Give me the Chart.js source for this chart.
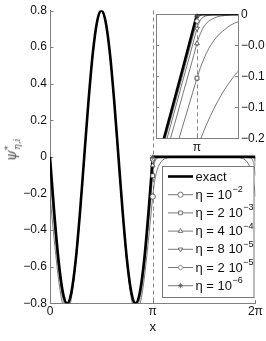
<!DOCTYPE html>
<html>
<head>
<meta charset="utf-8">
<script src="https://cdn.jsdelivr.net/npm/chart.js@4.4.0/dist/chart.umd.min.js"></script>
<style>
  body { margin: 0; background: #fff; }
  #wrap { position: relative; width: 266px; height: 341px; overflow: hidden; }
  #main { position: absolute; left: 0; top: 0; }
  #inset { position: absolute; left: 140px; top: 0; }
  #ytitle {
    position: absolute; left: 11px; top: 150px;
    transform: translate(-50%, -50%) rotate(-90deg);
    font: italic 14px "DejaVu Serif", serif; color: #555;
    white-space: nowrap; line-height: 1;
  }
  #ytitle .sp { position: relative; top: -5px; font-size: 9px; }
  #ytitle .sb { position: relative; top: 4px; font-size: 9px; margin-left: -4px; }
</style>
</head>
<body>
<div id="wrap">
  <canvas id="main" width="266" height="341"></canvas>
  <canvas id="inset" width="126" height="160"></canvas>
  <div id="ytitle">ψ<span class="sp">*</span><span class="sb">η,i</span></div>
</div>
<script>
// x is in degrees here, 180 = pi, 360 = 2 pi

// ---- ticks ----
const X_TICKS = [0, 180, 360];
const X_TICK_LABELS = ['0', 'π', '2π'];
const Y_TICKS = [-0.8, -0.6, -0.4, -0.2, 0, 0.2, 0.4, 0.6, 0.8];
const Y_TICK_LABELS = ['−0.8', '−0.6', '−0.4', '−0.2', '0', '0.2', '0.4', '0.6', '0.8'];
const INSET_X_TICKS = [180];
const INSET_X_LABELS = ['π'];
const INSET_Y_TICKS = [0, -0.05, -0.1, -0.15, -0.2];
const INSET_Y_LABELS = ['0', '−0.0', '−0.1', '−0.1', '−0.2'];
const PI_LINE = 180;

// ---- legend ----
const LEGEND_TEXT = ['exact', 'η = 10', 'η = 2 10', 'η = 4 10', 'η = 8 10', 'η = 2 10', 'η = 10'];
const LEGEND_EXP = ['', '−2', '−3', '−4', '−5', '−5', '−6'];

// ---- data ----
const MID_X = [15, 22.5, 30, 37.5, 45, 52.5, 60, 67.5, 75, 82.5, 90, 97.5, 105, 112.5, 120, 127.5, 135, 142.5, 150, 157.5, 165];

const EXACT_X = [0, 7.5, ...MID_X, 172.5, 174, 176, 178, 179, 180];
const EXACT_Y = [0, -0.306, -0.566, -0.739, -0.8, -0.739, -0.566, -0.306, 0, 0.306, 0.566, 0.739, 0.8, 0.739, 0.566, 0.306, 0,
  -0.306, -0.566, -0.739, -0.8, -0.739, -0.566, -0.306, -0.247, -0.166, -0.084, -0.042, 0];
const SOLID_X = [180, 360];
const SOLID_Y = [0, 0];

// eta = 1e-2
const ETA1_X = [0, 2, 4, 6, 7.5, ...MID_X, 172.5, 174, 176, 178, 180, 181, 182, 183, 184, 185, 186, 188, 190, 195, 200, 210, 220,
  320, 330, 340, 345, 350, 352, 354, 356, 358, 359, 360];
const ETA1_Y = [-0.217, -0.280, -0.344, -0.408, -0.455,
  -0.669, -0.810, -0.849, -0.772, -0.589, -0.322, -0.011, 0.298, 0.560, 0.734, 0.795, 0.734, 0.560, 0.298, -0.011, -0.322, -0.589, -0.772, -0.849, -0.810, -0.669,
  -0.455, -0.408, -0.344, -0.280, -0.217, -0.188, -0.163, -0.141, -0.122, -0.106, -0.092, -0.069, -0.052, -0.025, -0.012, -0.003, -0.001,
  -0.001, -0.003, -0.012, -0.025, -0.052, -0.069, -0.092, -0.122, -0.163, -0.188, -0.217];

// eta = 2e-3
const ETA2_X = [0, 1, 2, 4, 6, 7.5, ...MID_X, 172.5, 174, 176, 177, 178, 179, 179.5, 180, 180.5, 181, 181.5, 182, 183, 184, 185, 186, 188, 190, 195,
  345, 350, 352, 354, 356, 357, 358, 358.5, 359, 359.5, 360];
const ETA2_Y = [-0.103, -0.140, -0.177, -0.251, -0.324, -0.377,
  -0.615, -0.773, -0.823, -0.755, -0.577, -0.314, -0.005, 0.302, 0.563, 0.737, 0.798, 0.737, 0.563, 0.302, -0.005, -0.314, -0.577, -0.755, -0.823, -0.773, -0.615,
  -0.377, -0.324, -0.251, -0.214, -0.177, -0.140, -0.121, -0.103, -0.086, -0.072, -0.060, -0.050, -0.035, -0.025, -0.017, -0.012, -0.006, -0.003, 0,
  0, -0.003, -0.006, -0.012, -0.025, -0.035, -0.050, -0.060, -0.072, -0.086, -0.103];

// eta = 4e-4
const ETA3_X = [0, 0.5, 1, 2, 4, 7.5, ...MID_X, 172.5, 174, 175, 176, 177, 178, 179, 179.5, 180, 180.25, 180.5, 180.75, 181, 181.5, 182, 183, 184, 186, 190,
  350, 356, 357, 358, 358.5, 359, 359.25, 359.5, 359.75, 360];
const ETA3_Y = [-0.047, -0.067, -0.087, -0.126, -0.205, -0.338,
  -0.588, -0.754, -0.811, -0.746, -0.571, -0.309, -0.002, 0.304, 0.565, 0.738, 0.799, 0.738, 0.565, 0.304, -0.002, -0.309, -0.571, -0.746, -0.811, -0.754, -0.588,
  -0.338, -0.282, -0.244, -0.205, -0.166, -0.126, -0.087, -0.067, -0.047, -0.038, -0.031, -0.025, -0.020, -0.013, -0.009, -0.004, -0.002, 0, 0,
  0, -0.002, -0.004, -0.009, -0.013, -0.020, -0.025, -0.031, -0.038, -0.047];

// eta = 8e-5
const ETA4_X = [0, 0.5, 1, 2, 4, 7.5, ...MID_X, 172.5, 174, 176, 178, 179, 179.5, 180, 180.1, 180.25, 180.5, 180.75, 181, 181.5, 182, 183, 190,
  350, 357, 358, 358.5, 359, 359.25, 359.5, 359.75, 359.9, 360];
const ETA4_Y = [-0.023, -0.043, -0.064, -0.104, -0.185, -0.322,
  -0.577, -0.747, -0.805, -0.743, -0.568, -0.308, -0.001, 0.305, 0.565, 0.738, 0.799, 0.738, 0.565, 0.305, -0.001, -0.308, -0.568, -0.743, -0.805, -0.747, -0.577,
  -0.322, -0.264, -0.185, -0.104, -0.064, -0.043, -0.023, -0.019, -0.015, -0.009, -0.006, -0.004, -0.002, -0.001, 0, 0,
  0, 0, -0.001, -0.002, -0.004, -0.006, -0.009, -0.015, -0.019, -0.023];

// eta = 2e-5
const ETA5_X = [0, 0.5, 1, 2, 4, 7.5, ...MID_X, 172.5, 174, 176, 178, 179, 179.5, 180, 180.1, 180.25, 180.5, 181, 190,
  350, 359, 359.5, 359.75, 359.9, 360];
const ETA5_Y = [-0.011, -0.032, -0.052, -0.094, -0.175, -0.314,
  -0.571, -0.743, -0.802, -0.741, -0.567, -0.307, -0.001, 0.306, 0.566, 0.739, 0.800, 0.739, 0.566, 0.306, -0.001, -0.307, -0.567, -0.741, -0.802, -0.743, -0.571,
  -0.314, -0.255, -0.175, -0.094, -0.052, -0.032, -0.011, -0.008, -0.004, -0.002, 0, 0,
  0, 0, -0.002, -0.004, -0.008, -0.011];

// eta = 1e-6
const ETA6_X = [0, 0.5, 1, 2, 4, 7.5, ...MID_X, 172.5, 174, 176, 178, 179, 179.5, 180, 180.1, 180.25, 190,
  350, 359.75, 359.9, 360];
const ETA6_Y = [-0.003, -0.024, -0.045, -0.086, -0.169, -0.308,
  -0.567, -0.740, -0.801, -0.740, -0.566, -0.306, 0, 0.306, 0.566, 0.739, 0.800, 0.739, 0.566, 0.306, 0, -0.306, -0.566, -0.740, -0.801, -0.740, -0.567,
  -0.308, -0.249, -0.169, -0.086, -0.045, -0.024, -0.003, -0.001, 0, 0,
  0, 0, -0.001, -0.003];

const APPROX = [
  { xs: ETA1_X, ys: ETA1_Y, style: 'circle', rot: 0 },
  { xs: ETA2_X, ys: ETA2_Y, style: 'rect', rot: 0 },
  { xs: ETA3_X, ys: ETA3_Y, style: 'triangle', rot: 0 },
  { xs: ETA4_X, ys: ETA4_Y, style: 'triangle', rot: 180 },
  { xs: ETA5_X, ys: ETA5_Y, style: 'rectRot', rot: 0 },
  { xs: ETA6_X, ys: ETA6_Y, style: 'star', rot: 0 },
];

// ---- style ----
const GRAY = '#555';
const AXIS = '#808080';
const FONT = '"Liberation Sans", Arial, Helvetica, sans-serif';
const TEXT = '#111';
const MARK_R = 2.6;

const pts = (xs, ys) => xs.map((x, i) => ({ x: x, y: ys[i] }));

function buildDatasets() {
  const sets = [
    { data: pts(EXACT_X, EXACT_Y), borderColor: '#000', borderWidth: 2.6, cubicInterpolationMode: 'monotone', pointRadius: 0 },
    { data: pts(SOLID_X, SOLID_Y), borderColor: '#000', borderWidth: 2.6, pointRadius: 0 },
  ];
  APPROX.forEach(a => {
    sets.push({
      data: pts(a.xs, a.ys),
      borderColor: GRAY,
      borderWidth: 0.8,
      cubicInterpolationMode: 'monotone',
      pointStyle: a.style,
      pointRotation: a.rot,
      pointRadius: c => (c.raw && c.raw.x === PI_LINE) ? MARK_R : 0,
      pointBorderColor: GRAY,
      pointBackgroundColor: '#fff',
      pointBorderWidth: 0.8,
    });
  });
  return sets;
}

// markers on top of the thick exact line
function redrawMarkers(chart) {
  const ctx = chart.ctx;
  chart.data.datasets.forEach((ds, i) => {
    if (i < 2) return;
    const meta = chart.getDatasetMeta(i);
    meta.data.forEach((el, j) => {
      if (ds.data[j].x === PI_LINE) el.draw(ctx, chart.chartArea);
    });
  });
}

function dashedPi(chart) {
  const { ctx, chartArea: a, scales: { x } } = chart;
  const px = Math.round(x.getPixelForValue(PI_LINE)) + 0.5;
  ctx.save();
  ctx.strokeStyle = '#888';
  ctx.lineWidth = 1;
  ctx.setLineDash([4, 3]);
  ctx.beginPath();
  ctx.moveTo(px, a.top);
  ctx.lineTo(px, a.bottom);
  ctx.stroke();
  ctx.restore();
}

const LEG = { left: 162.5, top: 166.5, right: 254, bottom: 297.5, row0: 176.5, step: 18.2, x0: 168, x1: 193, tx: 195.5 };

function drawLegend(chart) {
  const ctx = chart.ctx;
  ctx.save();
  ctx.fillStyle = '#fff';
  ctx.fillRect(LEG.left, LEG.top, LEG.right - LEG.left, LEG.bottom - LEG.top);
  ctx.strokeStyle = '#777';
  ctx.lineWidth = 1;
  ctx.strokeRect(LEG.left, LEG.top, LEG.right - LEG.left, LEG.bottom - LEG.top);

  LEGEND_TEXT.forEach((label, i) => {
    const y = LEG.row0 + i * LEG.step;
    const ds = chart.data.datasets[i === 0 ? 0 : i + 1];
    ctx.strokeStyle = ds.borderColor;
    ctx.lineWidth = ds.borderWidth;
    ctx.beginPath();
    ctx.moveTo(LEG.x0, y);
    ctx.lineTo(LEG.x1, y);
    ctx.stroke();
    if (i > 0) {
      ctx.fillStyle = '#fff';
      ctx.strokeStyle = GRAY;
      ctx.lineWidth = 0.8;
      Chart.helpers.drawPoint(ctx, { pointStyle: ds.pointStyle, rotation: ds.pointRotation, radius: MARK_R, borderWidth: 0.8 },
        (LEG.x0 + LEG.x1) / 2, y);
    }
    ctx.fillStyle = TEXT;
    ctx.textBaseline = 'middle';
    ctx.textAlign = 'left';
    ctx.font = '13px ' + FONT;
    ctx.fillText(label, LEG.tx, y + 0.5);
    if (LEGEND_EXP[i]) {
      const w = ctx.measureText(label).width;
      ctx.font = '9px ' + FONT;
      ctx.fillText(LEGEND_EXP[i], LEG.tx + w + 0.5, y - 5);
    }
  });
  ctx.restore();
}

const mainDecor = {
  id: 'mainDecor',
  beforeDatasetsDraw(chart) {
    const { ctx, chartArea: a, scales: { x, y } } = chart;
    dashedPi(chart);
    ctx.save();
    ctx.strokeStyle = AXIS;
    ctx.lineWidth = 1;
    X_TICKS.forEach(v => {
      const p = Math.round(x.getPixelForValue(v)) + 0.5;
      ctx.beginPath(); ctx.moveTo(p, a.bottom); ctx.lineTo(p, a.bottom - 3.5); ctx.stroke();
    });
    Y_TICKS.forEach(v => {
      const p = Math.round(y.getPixelForValue(v)) + 0.5;
      ctx.beginPath(); ctx.moveTo(a.left, p); ctx.lineTo(a.left + 3.5, p); ctx.stroke();
    });
    ctx.restore();
  },
  afterDatasetsDraw(chart) { redrawMarkers(chart); },
  afterDraw(chart) { drawLegend(chart); }
};

const insetDecor = {
  id: 'insetDecor',
  beforeDraw(chart) {
    const { ctx, chartArea: a } = chart;
    ctx.save();
    ctx.fillStyle = '#fff';
    ctx.fillRect(a.left, a.top, a.right - a.left, a.bottom - a.top);
    ctx.restore();
  },
  beforeDatasetsDraw(chart) {
    const { ctx, chartArea: a, scales: { x, y } } = chart;
    ctx.save();
    ctx.strokeStyle = AXIS;
    ctx.lineWidth = 1;
    ctx.strokeRect(Math.round(a.left) + 0.5, Math.round(a.top) + 0.5, Math.round(a.right - a.left), Math.round(a.bottom - a.top));
    INSET_Y_TICKS.forEach(v => {
      const p = Math.round(y.getPixelForValue(v)) + 0.5;
      ctx.beginPath(); ctx.moveTo(a.left, p); ctx.lineTo(a.left + 3, p); ctx.stroke();
      ctx.beginPath(); ctx.moveTo(a.right, p); ctx.lineTo(a.right - 3, p); ctx.stroke();
    });
    INSET_X_TICKS.forEach(v => {
      const p = Math.round(x.getPixelForValue(v)) + 0.5;
      ctx.beginPath(); ctx.moveTo(p, a.bottom); ctx.lineTo(p, a.bottom - 3); ctx.stroke();
      ctx.beginPath(); ctx.moveTo(p, a.top); ctx.lineTo(p, a.top + 3); ctx.stroke();
    });
    ctx.restore();
    dashedPi(chart);
  },
  afterDatasetsDraw(chart) { redrawMarkers(chart); }
};

const tickFont = { family: FONT, size: 12 };

new Chart(document.getElementById('main'), {
  type: 'line',
  data: { datasets: buildDatasets() },
  options: {
    responsive: false,
    animation: false,
    events: [],
    layout: { padding: { left: 0, top: 10.5, right: 10.6, bottom: 0 } },
    plugins: { legend: { display: false }, tooltip: { enabled: false } },
    scales: {
      x: {
        type: 'linear', min: 0, max: 360,
        afterFit: s => { s.height = 37.7; },
        afterBuildTicks: s => { s.ticks = X_TICKS.map(v => ({ value: v })); },
        ticks: { callback: v => X_TICK_LABELS[X_TICKS.indexOf(v)], padding: 1, autoSkip: false, maxRotation: 0, font: tickFont, color: TEXT },
        grid: { display: false, drawTicks: false },
        border: { display: true, color: AXIS, width: 1 },
        title: { display: true, text: 'x', color: TEXT, font: { family: FONT, size: 13 }, padding: { top: 0, bottom: 6 } }
      },
      y: {
        type: 'linear', min: -0.8, max: 0.8,
        afterFit: s => { s.width = 50; },
        afterBuildTicks: s => { s.ticks = Y_TICKS.map(v => ({ value: v })); },
        ticks: { callback: v => Y_TICK_LABELS[Y_TICKS.indexOf(v)], padding: 3, autoSkip: false, font: tickFont, color: TEXT },
        grid: { display: false, drawTicks: false },
        border: { display: true, color: AXIS, width: 1 }
      }
    }
  },
  plugins: [mainDecor]
});

new Chart(document.getElementById('inset'), {
  type: 'line',
  data: { datasets: buildDatasets() },
  options: {
    responsive: false,
    animation: false,
    events: [],
    layout: { padding: { left: 16, top: 14.3, right: 0, bottom: 0 } },
    plugins: { legend: { display: false }, tooltip: { enabled: false } },
    scales: {
      x: {
        type: 'linear', min: 174, max: 186,
        afterFit: s => { s.height = 21.7; },
        afterBuildTicks: s => { s.ticks = INSET_X_TICKS.map(v => ({ value: v })); },
        ticks: { callback: v => INSET_X_LABELS[INSET_X_TICKS.indexOf(v)], padding: 2, autoSkip: false, maxRotation: 0, font: tickFont, color: TEXT },
        grid: { display: false, drawTicks: false },
        border: { display: false }
      },
      y: {
        type: 'linear', position: 'right', min: -0.2, max: 0,
        afterFit: s => { s.width = 28; },
        afterBuildTicks: s => { s.ticks = INSET_Y_TICKS.map(v => ({ value: v })); },
        ticks: { callback: v => INSET_Y_LABELS[INSET_Y_TICKS.indexOf(v)], padding: 3, autoSkip: false, font: tickFont, color: TEXT },
        grid: { display: false, drawTicks: false },
        border: { display: false }
      }
    }
  },
  plugins: [insetDecor]
});
</script>
</body>
</html>
